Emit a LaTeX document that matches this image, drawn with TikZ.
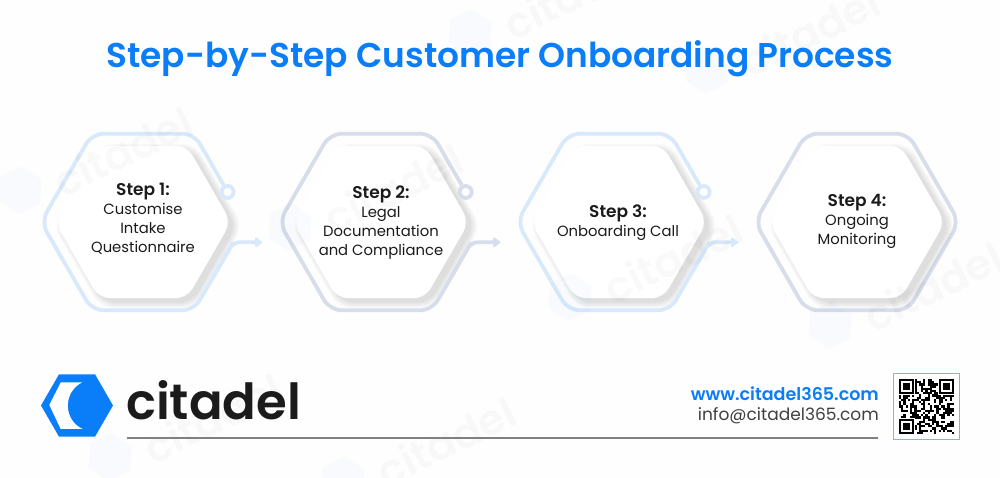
\documentclass[tikz,border=0pt]{standalone}
\usepackage{fontspec}
\setmainfont{Poppins}
\newfontfamily\semifont{Poppins SemiBold}
\newcommand{\stepheadfont}{\fontsize{17}{19}\selectfont\semifont}
\usetikzlibrary{positioning, shapes.geometric, calc, arrows.meta}
\definecolor{citablue}{HTML}{0A7DF8}
\definecolor{palepath}{HTML}{D8E9FB}
\definecolor{greypath}{HTML}{D7DDEA}
\definecolor{inkblack}{HTML}{1B1B1B}
\definecolor{pagewhite}{HTML}{FEFEFE}
\definecolor{qrframe}{HTML}{8FB0DC}

\begin{document}
\begin{tikzpicture}[
  x=1pt, y=1pt,
  hexbase/.style={regular polygon, regular polygon sides=6, inner sep=0pt, outer sep=0pt},
  outerhex/.style={hexbase, minimum size=204pt},
  innerhex/.style={hexbase, minimum size=176pt, fill=white, rounded corners=11pt},
  hexshade/.style={hexbase, fill=black, fill opacity=0.015, rounded corners=13pt},
  outline/.style={line width=3.8pt, rounded corners=12pt},
  ringnode/.style={circle, draw, line width=3.8pt, fill=pagewhite, minimum size=12pt, inner sep=0pt},
  arrow/.style={-{Triangle[round, length=8pt, width=11pt]}, line width=3.8pt, rounded corners=6pt},
  steptext/.style={align=center, text=inkblack, font=\fontsize{14.8}{19}\selectfont},
  markword/.style={rotate=26, text=black, text opacity=0.022, font=\fontsize{42}{42}\selectfont\semifont},
  markhex/.style={hexbase, minimum size=48pt, rotate=26, fill=citablue, fill opacity=0.022}
]
\clip (0,0) rectangle (1000,478);
\fill[pagewhite] (0,0) rectangle (1000,478);

% Outer hexagons, only the corners are used for steps 1-3
\node[outerhex] (hexA) at (143,256) {};
\node[outerhex, right=34pt of hexA] (hexB) {};
\node[outerhex, right=34pt of hexB] (hexC) {};
\node[outerhex, right=34pt of hexC, draw=greypath, line width=3.8pt, rounded corners=12pt] (hexD) {};

% Soft shadows under the white hexagons
\foreach \c in {hexA,hexB,hexC,hexD}
  \foreach \s [count=\k] in {176,178,...,190}
    \node[hexshade, minimum size=\s pt] (shade\c\k) at ($(\c)+(5,-4)$) {};

% White hexagons
\node[innerhex] (whiteA) at (hexA) {};
\node[innerhex] (whiteB) at (hexB) {};
\node[innerhex] (whiteC) at (hexC) {};
\node[innerhex] (whiteD) at (hexD) {};

% Rings at the open end of each outline
\node[ringnode, draw=palepath] (ringA) at ($(hexA.corner 1)!0.66!(hexA.corner 6)$) {};
\node[ringnode, draw=greypath] (ringB) at ($(hexB.corner 1)!0.66!(hexB.corner 6)$) {};
\node[ringnode, draw=palepath] (ringC) at ($(hexC.corner 1)!0.66!(hexC.corner 6)$) {};

% Where the outline leaves the hexagon
\coordinate (bendA) at ($(hexA.corner 6)!0.23!(hexA.corner 5)$);
\coordinate (bendB) at ($(hexB.corner 6)!0.23!(hexB.corner 5)$);
\coordinate (bendC) at ($(hexC.corner 6)!0.23!(hexC.corner 5)$);
\coordinate (tipA) at ($(bendA)+(29,0)$);
\coordinate (tipB) at ($(bendB)+(29,0)$);
\coordinate (tipC) at ($(bendC)+(29,0)$);

% Open outlines
\draw[outline, palepath] (ringA) -- (hexA.corner 1) -- (hexA.corner 2) -- (hexA.corner 3) -- (hexA.corner 4) -- (hexA.corner 5) -- (bendA);
\draw[outline, greypath] (ringB) -- (hexB.corner 1) -- (hexB.corner 2) -- (hexB.corner 3) -- (hexB.corner 4) -- (hexB.corner 5) -- (bendB);
\draw[outline, palepath] (ringC) -- (hexC.corner 1) -- (hexC.corner 2) -- (hexC.corner 3) -- (hexC.corner 4) -- (hexC.corner 5) -- (bendC);
\draw[arrow, palepath] ($(bendA)!0.5!(hexA.corner 5)$) -- (bendA) -- (tipA);
\draw[arrow, greypath] ($(bendB)!0.5!(hexB.corner 5)$) -- (bendB) -- (tipB);
\draw[arrow, palepath] ($(bendC)!0.5!(hexC.corner 5)$) -- (bendC) -- (tipC);

% Watermark
\foreach \hx/\hy [count=\n] in {470/445,707/408,110/21,343/-2,20/288,290/251,570/181,830/153} {
  \node[markhex] (markhex\n) at (\hx,\hy) {};
  \node[markword] (markword\n) at ({\hx+103},{\hy+39}) {citadel};
}

% Title
\node[text=citablue, font=\fontsize{34.35}{34}\selectfont\semifont] (title) at (500,419) {Step-by-Step Customer Onboarding Process};

% Step labels
\node[steptext] (labelA) at (143,259) {{\stepheadfont Step 1:}\\Customise\\Intake\\Questionnaire};
\node[steptext] (labelB) at (381,255) {{\stepheadfont Step 2:}\\Legal\\Documentation\\and Compliance};
\node[steptext] (labelC) at (618,255) {{\stepheadfont Step 3:}\\Onboarding Call};
\node[steptext] (labelD) at (857,257) {{\stepheadfont Step 4:}\\Ongoing\\Monitoring};

% Logo
\node[hexbase, minimum size=72pt, fill=citablue] (logo) at (77,72.5) {};
\fill[white] (82,95.5) -- (60.7,95.5) -- (49.3,73) -- (60.7,49) -- (82.7,49)
  .. controls (63,58) and (63,86) .. (82,95.5) -- cycle;
\node[anchor=base west, inner sep=0pt, text=inkblack, font=\fontsize{49.7}{50}\selectfont\semifont] (brand) at (126,58) {citadel};

% Footer
\coordinate (ruleL) at (127,40);
\coordinate (ruleR) at (878,40);
\draw[line width=1.6pt, black!50] (ruleL) -- (ruleR);
\node[anchor=east, inner sep=0pt, text=citablue, font=\fontsize{17.5}{17}\selectfont\semifont] (web) at (879,84) {www.citadel365.com};
\node[anchor=east, inner sep=0pt, text=black!75, font=\fontsize{17}{17}\selectfont] (mail) at (879,62) {info@citadel365.com};

% QR code
\node[draw=qrframe, line width=1pt, fill=white, minimum size=66pt, inner sep=0pt] (qr) at (926,71.5) {};
\pgfmathsetseed{365}
\begin{scope}[shift={(899,44)}, x=2.2pt, y=2.2pt]
  \foreach \i in {0,...,24}
    \foreach \j in {0,...,24} {
      \pgfmathparse{rnd<0.52 ? 1 : 0}
      \ifnum\pgfmathresult=1
        \fill[black] (\i,\j) rectangle ++(1.03,1.03);
      \fi
    }
  \foreach \fx/\fy in {0/0,0/18,18/18} {
    \fill[white] (\fx-0.4,\fy-0.4) rectangle ++(7.8,7.8);
    \fill[black] (\fx,\fy) rectangle ++(7,7);
    \fill[white] (\fx+1,\fy+1) rectangle ++(5,5);
    \fill[black] (\fx+2,\fy+2) rectangle ++(3,3);
  }
\end{scope}
\end{tikzpicture}
\end{document}
